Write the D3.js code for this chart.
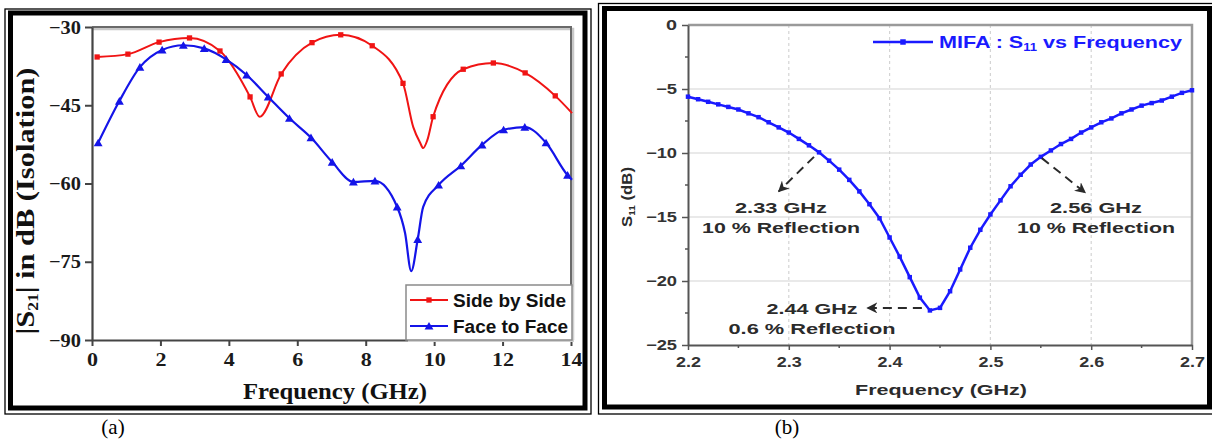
<!DOCTYPE html>
<html>
<head>
<meta charset="utf-8">
<script src="https://cdn.jsdelivr.net/npm/d3@7"></script>
<style>
  body { margin: 0; background: #fff; }
  svg { display: block; }
</style>
</head>
<body>
<svg id="chart" width="1212" height="444"></svg>
<script>
// ---- panel (a): isolation between antennas ----
const sideFreq = [0.15, 1.05, 1.96, 2.85, 3.74, 4.62, 5.53, 6.43, 7.27, 8.19, 9.09, 9.97, 10.85, 11.73, 12.66, 13.54];
const sideVal  = [-35.75, -35.2, -32.9, -32.1, -34.6, -43.4, -39.0, -33.0, -31.5, -33.6, -40.8, -47.2, -38.1, -36.9, -38.8, -43.2];
// curve points without a marker (dips and end)
const sideExtraFreq = [4.9, 9.39, 9.59, 9.68, 9.8, 14.03];
const sideExtraVal  = [-47.2, -49.2, -52.2, -53.2, -51.7, -46.5];

const faceFreq = [0.18, 0.8, 1.4, 2.05, 2.67, 3.28, 3.92, 4.52, 5.15, 5.77, 6.4, 7.02, 7.64, 8.27, 8.92, 9.52, 10.13, 10.78, 11.4, 12.03, 12.65, 13.27, 13.9];
const faceVal  = [-52.2, -44.2, -37.7, -34.4, -33.5, -34.1, -36.2, -39.2, -43.4, -47.5, -51.2, -55.9, -59.7, -59.5, -64.5, -70.7, -60.3, -56.6, -52.6, -49.7, -49.2, -52.2, -58.4];
const faceExtraFreq = [9.15, 9.33, 9.68, 14.03];
const faceExtraVal  = [-69.5, -76.8, -64.5, -59.3];

const aXTicks = [0, 2, 4, 6, 8, 10, 12, 14];
const aYTicks = [-30, -45, -60, -75, -90];
const aLegend = ['Side by Side', 'Face to Face'];

// ---- panel (b): MIFA S11 ----
const mifaFreq = [2.20, 2.21, 2.22, 2.23, 2.24, 2.25, 2.26, 2.27, 2.28, 2.29,
                  2.30, 2.31, 2.32, 2.33, 2.34, 2.35, 2.36, 2.37, 2.38, 2.39,
                  2.40, 2.41, 2.42, 2.43, 2.44, 2.45, 2.46, 2.47, 2.48, 2.49,
                  2.50, 2.51, 2.52, 2.53, 2.54, 2.55, 2.56, 2.57, 2.58, 2.59,
                  2.60, 2.61, 2.62, 2.63, 2.64, 2.65, 2.66, 2.67, 2.68, 2.69, 2.70];
const mifaS11 = [-5.6, -5.8, -6.0, -6.2, -6.4, -6.6, -6.9, -7.2, -7.6, -8.0,
                 -8.4, -8.9, -9.4, -9.95, -10.6, -11.3, -12.1, -13.0, -14.0, -15.1,
                 -16.6, -18.1, -19.7, -21.3, -22.3, -22.1, -20.8, -19.1, -17.4, -16.0,
                 -14.8, -13.7, -12.6, -11.7, -10.9, -10.3, -9.8, -9.3, -8.9, -8.4,
                 -8.0, -7.6, -7.3, -6.9, -6.6, -6.3, -6.1, -5.9, -5.6, -5.3, -5.1];
const bXTicks = [2.2, 2.3, 2.4, 2.5, 2.6, 2.7];
const bXMinor = [2.25, 2.35, 2.45, 2.55, 2.65];
const bYTicks = [0, -5, -10, -15, -20, -25];
const bYMinor = [-2.5, -7.5, -12.5, -17.5, -22.5];
const bGridY = [-5, -10, -15, -20];
const bGridX = [2.3, 2.4, 2.5, 2.6];
// annotation labels: [freq, S11] of arrow start and end
const noteLines = [['2.33 GHz', '10 % Reflection'], ['2.56 GHz', '10 % Reflection'], ['2.44 GHz', '0.6 % Reflection']];
const noteFrom = [[2.325, -10.3], [2.551, -10.4], [2.432, -22.1]];
const noteTo   = [[2.290, -13.0], [2.594, -13.1], [2.378, -22.1]];

const svg = d3.select('#chart');
const serif = '"Liberation Serif", "Times New Roman", serif';
const sans = '"Liberation Sans", Arial, sans-serif';

function frame(x0, y0, x1, y1, w) {
  svg.append('rect').attr('x', x0).attr('y', y0).attr('width', x1 - x0).attr('height', y1 - y0)
    .attr('fill', 'none').attr('stroke', '#000').attr('stroke-width', w);
}

// outer frames
frame(5, 9, 591, 414, 1.3);
frame(10.5, 13, 585, 408, 5);
frame(598.5, 3.5, 1215, 414, 1.3);
frame(604.5, 8.5, 1209.5, 407, 5);

// ================= panel (a) =================
const xA = d3.scaleLinear().domain([0, 14]).range([92, 571]);
const yA = d3.scaleLinear().domain([-90, -30]).range([340, 27]);

const ga = svg.append('g');
// top/right frame with soft shadow
ga.append('path').attr('d', `M${xA(0)},${yA(-30) + 2}H${xA(14) + 2}V${yA(-90)}`)
  .attr('fill', 'none').attr('stroke', '#c8c8c8').attr('stroke-width', 2.5);
ga.append('path').attr('d', `M${xA(0)},${yA(-30)}H${xA(14)}V${yA(-90)}`)
  .attr('fill', 'none').attr('stroke', '#6a6a6a').attr('stroke-width', 2);

const axA = ga.append('g').attr('transform', `translate(0,${yA(-90)})`)
  .call(d3.axisBottom(xA).tickValues(aXTicks).tickSize(6).tickPadding(7).tickSizeOuter(0));
const ayA = ga.append('g').attr('transform', `translate(${xA(0)},0)`)
  .call(d3.axisLeft(yA).tickValues(aYTicks).tickSize(7).tickPadding(4).tickSizeOuter(0));
[axA, ayA].forEach(g => {
  g.select('.domain').attr('stroke', '#444').attr('stroke-width', 2.2);
  g.selectAll('.tick line').attr('stroke', '#444').attr('stroke-width', 2);
  g.selectAll('.tick text').attr('fill', '#1a1a1a')
    .style('font-family', serif).style('font-weight', 'bold').style('font-size', '19px');
});
axA.selectAll('.tick text').attr('textLength', d => String(d).length * 11).attr('lengthAdjust', 'spacingAndGlyphs');
ayA.selectAll('.tick text').attr('textLength', 32).attr('lengthAdjust', 'spacingAndGlyphs');

function merged(f, v, ef, ev) {
  return f.map((d, i) => [d, v[i]]).concat(ef.map((d, i) => [d, ev[i]])).sort((a, b) => a[0] - b[0]);
}
const lineA = d3.line().x(d => xA(d[0])).y(d => yA(d[1])).curve(d3.curveMonotoneX);
const red = '#f01414', blue = '#1414e8';

ga.append('path').datum(merged(sideFreq, sideVal, sideExtraFreq, sideExtraVal))
  .attr('d', lineA).attr('fill', 'none').attr('stroke', red).attr('stroke-width', 2);
ga.append('path').datum(merged(faceFreq, faceVal, faceExtraFreq, faceExtraVal))
  .attr('d', lineA).attr('fill', 'none').attr('stroke', blue).attr('stroke-width', 2.2);

const sq = d3.symbol(d3.symbolSquare, 28);
const tri = d3.symbol(d3.symbolTriangle, 34);
ga.append('g').selectAll('path').data(sideFreq).join('path')
  .attr('transform', (d, i) => `translate(${xA(d)},${yA(sideVal[i])})`)
  .attr('d', sq).attr('fill', red);
ga.append('g').selectAll('path').data(faceFreq).join('path')
  .attr('transform', (d, i) => `translate(${xA(d)},${yA(faceVal[i]) + 1})`)
  .attr('d', tri).attr('fill', blue);

// legend
const lg = ga.append('g');
lg.append('rect').attr('x', 408).attr('y', 287).attr('width', 166).attr('height', 55).attr('fill', '#d0d0d0');
lg.append('rect').attr('x', 406).attr('y', 285).attr('width', 166).attr('height', 55)
  .attr('fill', '#fff').attr('stroke', '#8a8a8a').attr('stroke-width', 1.5);
aLegend.forEach((name, i) => {
  const y = 300 + i * 26;
  const c = i === 0 ? red : blue;
  lg.append('line').attr('x1', 410).attr('x2', 448).attr('y1', y).attr('y2', y)
    .attr('stroke', c).attr('stroke-width', 2);
  lg.append('path').attr('transform', `translate(429,${y + (i ? 1 : 0)})`).attr('d', i ? tri : sq).attr('fill', c);
  lg.append('text').attr('x', 453).attr('y', y + 6.5).text(name)
    .attr('textLength', i ? 115 : 113).attr('lengthAdjust', 'spacingAndGlyphs')
    .style('font-family', sans).style('font-weight', 'bold').style('font-size', '18px').attr('fill', '#111');
});

// axis titles
ga.append('text').attr('x', 335).attr('y', 399).attr('text-anchor', 'middle')
  .attr('textLength', 184).attr('lengthAdjust', 'spacingAndGlyphs')
  .style('font-family', serif).style('font-weight', 'bold').style('font-size', '23px').attr('fill', '#111')
  .text('Frequency (GHz)');
const yt = ga.append('text').attr('transform', 'translate(34,201) rotate(-90)').attr('text-anchor', 'middle')
  .attr('textLength', 267).attr('lengthAdjust', 'spacingAndGlyphs')
  .style('font-family', serif).style('font-weight', 'bold').style('font-size', '26px').attr('fill', '#111');
yt.append('tspan').text('|S');
yt.append('tspan').attr('baseline-shift', '-25%').style('font-size', '15px').text('21');
yt.append('tspan').text('| in dB (Isolation)');

svg.append('text').attr('x', 113).attr('y', 434).attr('text-anchor', 'middle')
  .style('font-family', serif).style('font-size', '21px').attr('fill', '#000').text('(a)');

// ================= panel (b) =================
const xB = d3.scaleLinear().domain([2.2, 2.7]).range([688, 1192]);
const yB = d3.scaleLinear().domain([-25, 0]).range([345, 25]);
const gb = svg.append('g');

gb.append('g').selectAll('line').data(bGridY).join('line')
  .attr('x1', xB(2.2)).attr('x2', xB(2.7)).attr('y1', d => yB(d)).attr('y2', d => yB(d))
  .attr('stroke', '#e2e2e2').attr('stroke-width', 1.5);
gb.append('g').selectAll('line').data(bGridX).join('line')
  .attr('x1', d => xB(d)).attr('x2', d => xB(d)).attr('y1', yB(0)).attr('y2', yB(-25))
  .attr('stroke', '#d4d4d4').attr('stroke-width', 1.2).attr('stroke-dasharray', '3,3');

gb.append('path').attr('d', `M${xB(2.2)},${yB(0)}H${xB(2.7)}V${yB(-25)}`)
  .attr('fill', 'none').attr('stroke', '#9a9a9a').attr('stroke-width', 2.5);

const axB = gb.append('g').attr('transform', `translate(0,${yB(-25)})`)
  .call(d3.axisBottom(xB).tickValues(bXTicks).tickFormat(d3.format('.1f')).tickSize(5).tickPadding(7).tickSizeOuter(0));
const ayB = gb.append('g').attr('transform', `translate(${xB(2.2)},0)`)
  .call(d3.axisLeft(yB).tickValues(bYTicks).tickSize(6).tickPadding(5).tickSizeOuter(0));
[axB, ayB].forEach(g => {
  g.select('.domain').attr('stroke', '#555').attr('stroke-width', 2);
  g.selectAll('.tick line').attr('stroke', '#555').attr('stroke-width', 1.5);
  g.selectAll('.tick text').attr('fill', '#333')
    .style('font-family', sans).style('font-weight', 'bold').style('font-size', '14px');
});
axB.selectAll('.tick text').attr('textLength', 25).attr('lengthAdjust', 'spacingAndGlyphs');
ayB.selectAll('.tick text').attr('textLength', d => String(d).length * 10 + 1).attr('lengthAdjust', 'spacingAndGlyphs');
gb.append('g').selectAll('line').data(bXMinor).join('line')
  .attr('x1', d => xB(d)).attr('x2', d => xB(d)).attr('y1', yB(-25)).attr('y2', yB(-25) + 3)
  .attr('stroke', '#555').attr('stroke-width', 1.5);
gb.append('g').selectAll('line').data(bYMinor).join('line')
  .attr('x1', xB(2.2) - 3).attr('x2', xB(2.2)).attr('y1', d => yB(d)).attr('y2', d => yB(d))
  .attr('stroke', '#555').attr('stroke-width', 1.5);

const mblue = '#1a1aff';
gb.append('path').datum(mifaFreq.map((d, i) => [d, mifaS11[i]]))
  .attr('d', d3.line().x(d => xB(d[0])).y(d => yB(d[1])))
  .attr('fill', 'none').attr('stroke', mblue).attr('stroke-width', 2.5);
const dot = d3.symbol(d3.symbolSquare, 20);
gb.append('g').selectAll('path').data(mifaFreq).join('path')
  .attr('transform', (d, i) => `translate(${xB(d)},${yB(mifaS11[i])})`)
  .attr('d', dot).attr('fill', mblue);

// legend
gb.append('line').attr('x1', 873).attr('x2', 933).attr('y1', 42).attr('y2', 42)
  .attr('stroke', mblue).attr('stroke-width', 2.5);
gb.append('path').attr('transform', 'translate(903,42)').attr('d', d3.symbol(d3.symbolSquare, 30)).attr('fill', mblue);
const lt = gb.append('text').attr('x', 939).attr('y', 48)
  .attr('textLength', 243).attr('lengthAdjust', 'spacingAndGlyphs')
  .style('font-family', sans).style('font-weight', 'bold').style('font-size', '16.5px').attr('fill', mblue);
lt.append('tspan').text('MIFA : S');
lt.append('tspan').attr('baseline-shift', '-30%').style('font-size', '10px').text('11');
lt.append('tspan').text(' vs Frequency');

// annotations
svg.append('defs').append('marker').attr('id', 'head')
  .attr('viewBox', '0 0 10 10').attr('refX', 9).attr('refY', 5)
  .attr('markerWidth', 11).attr('markerHeight', 11).attr('markerUnits', 'userSpaceOnUse').attr('orient', 'auto')
  .append('path').attr('d', 'M0,0 L10,5 L0,10 L3,5 Z').attr('fill', '#2a2a2a');
noteFrom.forEach((p, i) => {
  gb.append('line').attr('x1', xB(p[0])).attr('y1', yB(p[1]))
    .attr('x2', xB(noteTo[i][0])).attr('y2', yB(noteTo[i][1]))
    .attr('stroke', '#2a2a2a').attr('stroke-width', 2).attr('stroke-dasharray', '9,6')
    .attr('marker-end', 'url(#head)');
});
const notePos = [[781, 212.7], [1096, 212.7], [812, 313.7]];
const noteW = [[92, 158], [92, 158], [91, 167]];
noteLines.forEach((lines, i) => {
  lines.forEach((t, j) => {
    gb.append('text').attr('x', notePos[i][0]).attr('y', notePos[i][1] + j * 20).attr('text-anchor', 'middle')
      .attr('textLength', noteW[i][j]).attr('lengthAdjust', 'spacingAndGlyphs')
      .style('font-family', sans).style('font-weight', 'bold').style('font-size', '15.5px').attr('fill', '#2b2b2b')
      .text(t);
  });
});

// axis titles
gb.append('text').attr('x', 941).attr('y', 395).attr('text-anchor', 'middle')
  .attr('textLength', 172).attr('lengthAdjust', 'spacingAndGlyphs')
  .style('font-family', sans).style('font-weight', 'bold').style('font-size', '15px').attr('fill', '#2b2b2b')
  .text('Frequency (GHz)');
const yb = gb.append('text').attr('transform', 'translate(632,197) rotate(-90)').attr('text-anchor', 'middle')
  .attr('textLength', 60).attr('lengthAdjust', 'spacingAndGlyphs')
  .style('font-family', sans).style('font-weight', 'bold').style('font-size', '15px').attr('fill', '#2b2b2b');
yb.append('tspan').text('S');
yb.append('tspan').attr('baseline-shift', '-30%').style('font-size', '9px').text('11');
yb.append('tspan').text(' (dB)');

svg.append('text').attr('x', 787).attr('y', 434).attr('text-anchor', 'middle')
  .style('font-family', serif).style('font-size', '21px').attr('fill', '#000').text('(b)');
</script>
</body>
</html>
